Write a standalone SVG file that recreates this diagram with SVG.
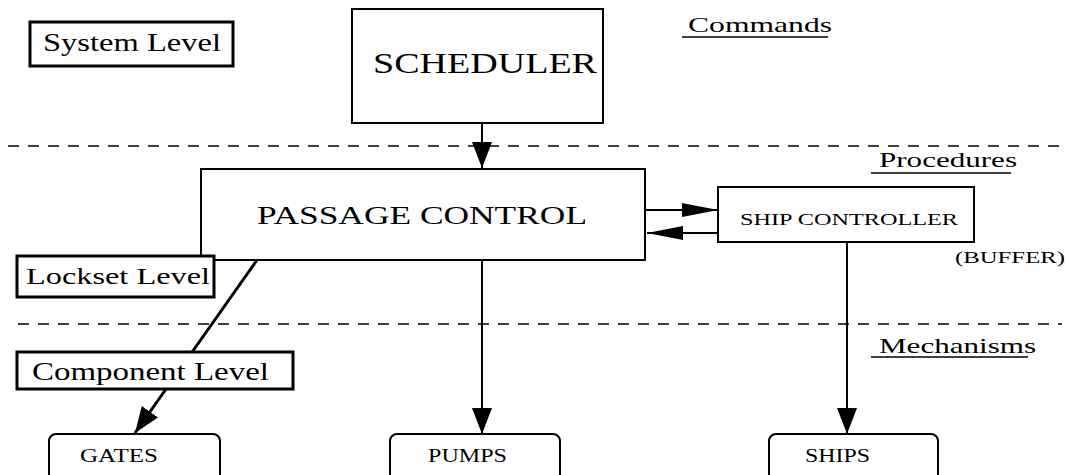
<svg xmlns="http://www.w3.org/2000/svg" width="1068" height="475" viewBox="0 0 1068 475" font-family="'Liberation Serif', 'DejaVu Serif', 'Times New Roman', Times, serif">
  <style>
    .box { fill: #fff; stroke: #000; stroke-width: 2; }
    .lvl { fill: #fff; stroke: #000; stroke-width: 3; }
    .dash { stroke: #000; stroke-width: 1.6; stroke-dasharray: 11 9; fill: none; }
    .wire { stroke: #000; stroke-width: 2; fill: none; }
    .thick { stroke-width: 3; }
    .ul { stroke: #000; stroke-width: 1.6; }
  </style>
  <defs>
    <marker id="head" viewBox="0 0 26 20" refX="26" refY="10" markerWidth="26" markerHeight="20" markerUnits="userSpaceOnUse" orient="auto">
      <path d="M0,0 L26,10 L0,20 Z" fill="#000"/>
    </marker>
    <marker id="headThin" viewBox="0 0 36 14" refX="36" refY="7" markerWidth="36" markerHeight="14" markerUnits="userSpaceOnUse" orient="auto">
      <path d="M0,0 L36,7 L0,14 Z" fill="#000"/>
    </marker>
  </defs>

  <!-- layer separators -->
  <g id="separators">
    <line class="dash" x1="8" y1="146" x2="1062" y2="146"/>
    <line class="dash" x1="18" y1="324" x2="1062" y2="324"/>
  </g>

  <!-- layer captions -->
  <g id="captions" fill="#000">
    <text x="688" y="32" font-size="22" textLength="144" lengthAdjust="spacingAndGlyphs">Commands</text>
    <line class="ul" x1="682" y1="37" x2="828" y2="37"/>
    <text x="879" y="167" font-size="22" textLength="138" lengthAdjust="spacingAndGlyphs">Procedures</text>
    <line class="ul" x1="871" y1="173" x2="1011" y2="173"/>
    <text x="879" y="353" font-size="22" textLength="157" lengthAdjust="spacingAndGlyphs">Mechanisms</text>
    <line class="ul" x1="871" y1="357" x2="1028" y2="357"/>
  </g>

  <!-- connectors -->
  <g id="connectors">
    <line class="wire" x1="482" y1="123" x2="482" y2="168" marker-end="url(#head)"/>
    <line class="wire" x1="645" y1="210" x2="718" y2="210" marker-end="url(#headThin)"/>
    <line class="wire" x1="718" y1="233" x2="647" y2="233" marker-end="url(#headThin)"/>
    <line class="wire" x1="482" y1="260" x2="482" y2="434" marker-end="url(#head)"/>
    <line class="wire" x1="847" y1="242" x2="847" y2="434" marker-end="url(#head)"/>
    <line class="wire thick" x1="257" y1="260" x2="135" y2="433" marker-end="url(#head)"/>
  </g>

  <g id="scheduler">
    <rect class="box" x="352" y="9" width="251" height="114"/>
    <text x="373" y="73" font-size="30" textLength="224" lengthAdjust="spacingAndGlyphs">SCHEDULER</text>
  </g>

  <g id="passage-control">
    <rect class="box" x="201" y="169" width="444" height="91"/>
    <text x="257" y="224" font-size="26" textLength="330" lengthAdjust="spacingAndGlyphs">PASSAGE CONTROL</text>
  </g>

  <g id="ship-controller">
    <rect class="box" x="718" y="187" width="256" height="55"/>
    <text x="740" y="225" font-size="17" textLength="218" lengthAdjust="spacingAndGlyphs">SHIP CONTROLLER</text>
    <text x="955" y="263" font-size="17" textLength="110" lengthAdjust="spacingAndGlyphs">(BUFFER)</text>
  </g>

  <g id="system-level">
    <rect class="lvl" x="30" y="22" width="203" height="44"/>
    <text x="43" y="51" font-size="26" textLength="178" lengthAdjust="spacingAndGlyphs">System Level</text>
  </g>

  <g id="lockset-level">
    <rect class="lvl" x="17" y="256" width="197" height="41"/>
    <text x="26" y="284" font-size="24" textLength="184" lengthAdjust="spacingAndGlyphs">Lockset Level</text>
  </g>

  <g id="component-level">
    <rect class="lvl" x="17" y="352" width="276" height="37"/>
    <text x="32" y="380" font-size="25" textLength="237" lengthAdjust="spacingAndGlyphs">Component Level</text>
  </g>

  <g id="gates">
    <rect class="box" x="49" y="434" width="171" height="52" rx="7"/>
    <text x="80" y="462" font-size="18" textLength="78" lengthAdjust="spacingAndGlyphs">GATES</text>
  </g>

  <g id="pumps">
    <rect class="box" x="390" y="434" width="170" height="52" rx="7"/>
    <text x="428" y="462" font-size="18" textLength="79" lengthAdjust="spacingAndGlyphs">PUMPS</text>
  </g>

  <g id="ships">
    <rect class="box" x="769" y="434" width="169" height="52" rx="7"/>
    <text x="805" y="462" font-size="18" textLength="65" lengthAdjust="spacingAndGlyphs">SHIPS</text>
  </g>
</svg>
